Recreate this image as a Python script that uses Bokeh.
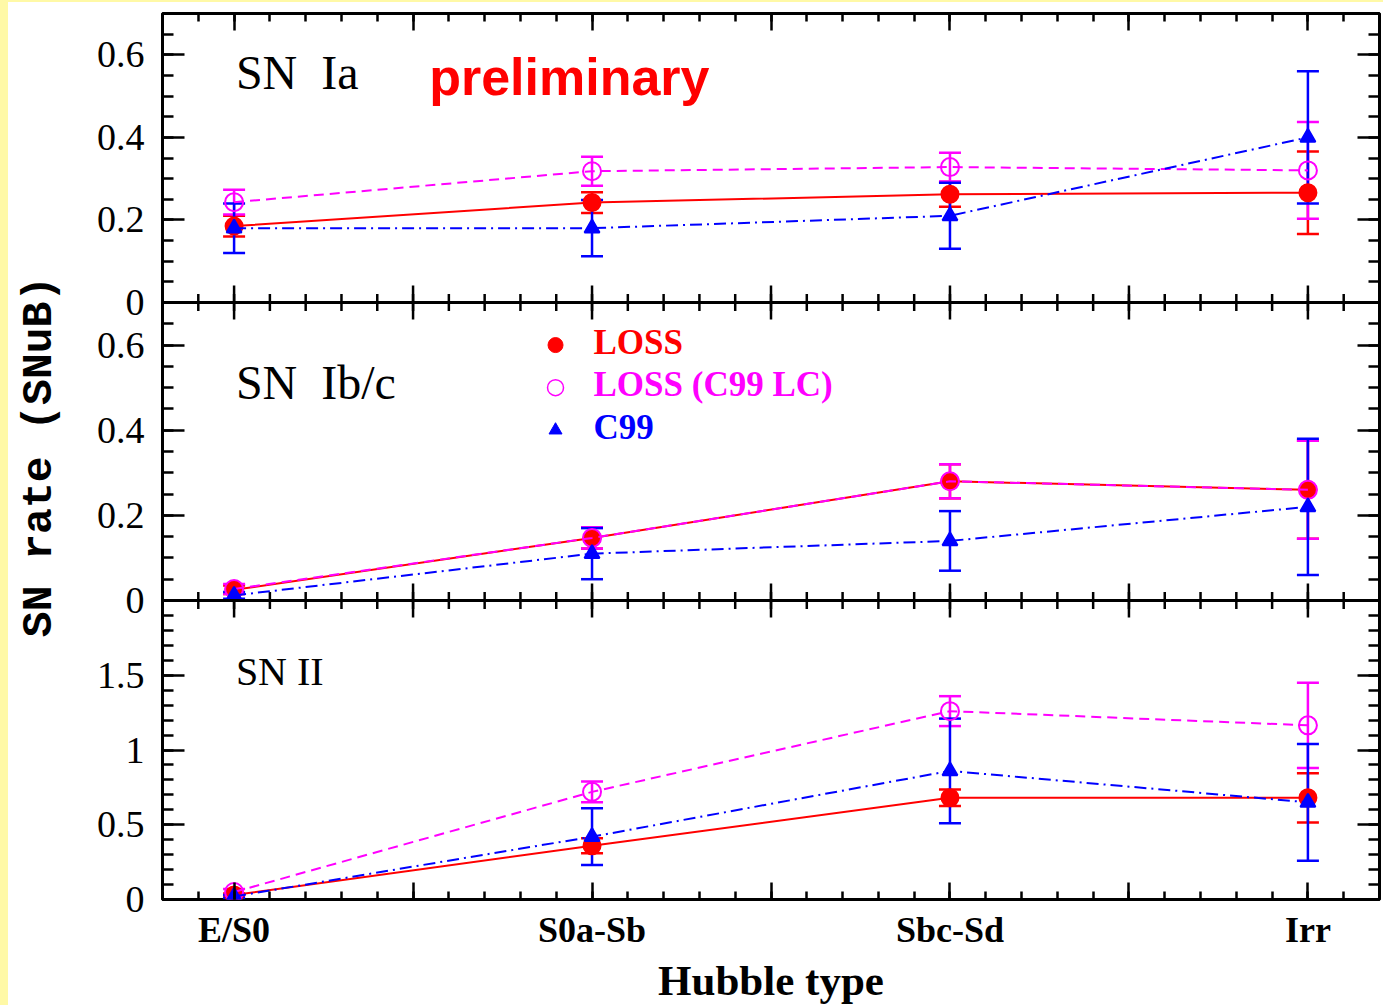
import numpy as np
from bokeh.plotting import figure
from bokeh.models import (Range1d, LinearAxis, FixedTicker, CustomJSTickFormatter,
                          Whisker, TeeHead, Span, ColumnDataSource, Label, Spacer)
from bokeh.layouts import row, column
from bokeh.core.properties import value
from bokeh.embed import file_html
from bokeh.resources import INLINE

# ---- data: SN rates (SNuB) per Hubble type ----
hubble_types = ["E/S0", "S0a-Sb", "Sbc-Sd", "Irr"]
type_pos = [1, 2, 3, 4]

ia_loss = [0.185, 0.242, 0.262, 0.266]
ia_loss_err = [0.025, 0.025, 0.03, 0.10]
ia_lc = [0.243, 0.318, 0.328, 0.32]
ia_lc_err = [0.03, 0.035, 0.035, 0.117]
ia_c99 = [0.18, 0.18, 0.21, 0.40]
ia_c99_err = [0.06, 0.068, 0.08, 0.16]

ibc_loss = [0.025, 0.147, 0.28, 0.26]
ibc_loss_err = [0.01, 0.025, 0.04, 0.115]
ibc_lc = [0.027, 0.147, 0.28, 0.26]
ibc_lc_err = [0.012, 0.025, 0.04, 0.115]
ibc_c99 = [0.012, 0.11, 0.14, 0.22]
ibc_c99_err = [0.008, 0.06, 0.07, 0.16]

ii_loss = [0.03, 0.36, 0.68, 0.68]
ii_loss_err = [0.01, 0.05, 0.055, 0.165]
ii_lc = [0.05, 0.72, 1.26, 1.165]
ii_lc_err = [0.02, 0.07, 0.10, 0.285]
ii_c99 = [0.02, 0.42, 0.86, 0.65]
ii_c99_err = [0.01, 0.19, 0.35, 0.39]

series_names = ["LOSS", "LOSS (C99 LC)", "C99"]
panel_titles = ["SN\u00a0\u00a0Ia", "SN\u00a0\u00a0Ib/c", "SN II"]

small_ticks = [0, 0.2, 0.4, 0.6]
small_tick_labels = ["0", "0.2", "0.4", "0.6"]
big_ticks = [0, 0.5, 1, 1.5]
big_tick_labels = ["0", "0.5", "1", "1.5"]

# ---- layout ----
FRAME_W, FRAME_H = 1217, 886
SERIF = "Liberation Serif"
RED, MAGENTA, BLUE = "#FF0000", "#FF00FF", "#0000FF"

# name, height (px), value limits, px offset from frame bottom, ticks, labels, minor step
panels = [
    ("ia", 289, (0.0, 0.7), 597, small_ticks, small_tick_labels, 0.05),
    ("ibc", 298, (0.0, 0.7), 299, small_ticks, small_tick_labels, 0.05),
    ("ii", 299, (0.0, 2.0), 0, big_ticks, big_tick_labels, 0.1),
]

p = figure(frame_width=FRAME_W, frame_height=FRAME_H,
           x_range=Range1d(0.8, 4.2), y_range=Range1d(0, FRAME_H),
           x_axis_location=None, y_axis_location=None,
           output_backend="svg", toolbar_location=None, tools="",
           min_border_left=154, min_border_right=4, min_border_top=11, min_border_bottom=106,
           background_fill_color="white", border_fill_color="white",
           outline_line_color="black", outline_line_width=3)
p.xgrid.grid_line_color = None
p.ygrid.grid_line_color = None

# one y range per panel, all sharing the same frame
ly_pos, ly_lab, ly_minor = [], [], []
for name, h, (lo, hi), off, ticks, labs, mstep in panels:
    ppu = h / (hi - lo)
    start = lo - off / ppu
    p.extra_y_ranges[name] = Range1d(start, start + FRAME_H / ppu)
    for v, lab in zip(ticks, labs):
        ly_pos.append(off + (v - lo) * ppu)
        ly_lab.append(lab)
    for v in np.arange(lo, hi + 1e-9, mstep):
        ly_minor.append(off + (v - lo) * ppu)

order = np.argsort(ly_pos)
ly_pos = [float(ly_pos[i]) for i in order]
ly_lab = [ly_lab[i] for i in order]
ly_minor = sorted(float(v) for v in ly_minor)

x_major = [float(v) for v in np.arange(1.0, 4.01, 0.5)]
x_minor = [float(v) for v in np.round(np.arange(0.8, 4.21, 0.1), 3)]

tick_style = dict(axis_line_color=None, major_tick_out=0, minor_tick_out=0,
                  major_tick_line_width=2.5, minor_tick_line_width=2.5,
                  major_tick_line_color="black", minor_tick_line_color="black")

left = LinearAxis(
    ticker=FixedTicker(ticks=ly_pos, minor_ticks=ly_minor),
    formatter=CustomJSTickFormatter(args=dict(pos=ly_pos, labs=ly_lab), code="""
        let best = 0;
        for (let i = 1; i < pos.length; i++) {
            if (Math.abs(pos[i] - tick) < Math.abs(pos[best] - tick)) best = i;
        }
        return labs[best];
    """),
    major_tick_in=22, minor_tick_in=11,
    major_label_text_font=SERIF, major_label_text_font_size="38px",
    major_label_text_color="black", major_label_standoff=18,
    axis_label="SN rate (SNuB)", axis_label_text_font="Liberation Mono",
    axis_label_text_font_style="bold", axis_label_text_font_size="43px",
    axis_label_text_color="black", axis_label_standoff=30,
    **tick_style)
p.add_layout(left, "left")

right = LinearAxis(ticker=FixedTicker(ticks=ly_pos, minor_ticks=ly_minor),
                   major_tick_in=22, minor_tick_in=11, major_label_text_color=None,
                   major_label_standoff=0, **tick_style)
p.add_layout(right, "right")

top = LinearAxis(ticker=FixedTicker(ticks=x_major, minor_ticks=x_minor),
                 major_tick_in=17, minor_tick_in=8, major_label_text_color=None,
                 major_label_standoff=0, **tick_style)
p.add_layout(top, "above")

bottom = LinearAxis(
    ticker=FixedTicker(ticks=x_major, minor_ticks=x_minor),
    formatter=CustomJSTickFormatter(args=dict(names=hubble_types), code="""
        const i = Math.round(tick);
        return Math.abs(tick - i) < 1e-6 ? names[i - 1] : "";
    """),
    major_tick_in=17, minor_tick_in=8,
    major_label_text_font=SERIF, major_label_text_font_style="bold",
    major_label_text_font_size="36px", major_label_text_color="black",
    major_label_standoff=10,
    axis_label="Hubble type", axis_label_text_font=SERIF,
    axis_label_text_font_style="bold", axis_label_text_font_size="43px",
    axis_label_text_color="black", axis_label_standoff=4,
    **tick_style)
p.add_layout(bottom, "below")

# panel separators with ticks on both sides
for name in ("ia", "ibc"):
    p.add_layout(Span(location=0, dimension="width", y_range_name=name,
                      line_color="black", line_width=3))
    p.scatter(x=x_major, y=[0] * len(x_major), marker="dash", angle=np.pi / 2,
              size=34, line_color="black", line_width=2.5, y_range_name=name)
    p.scatter(x=x_minor, y=[0] * len(x_minor), marker="dash", angle=np.pi / 2,
              size=17, line_color="black", line_width=2.5, y_range_name=name)

# series styling
styles = [
    dict(color=RED, dash="solid", marker="circle", size=17, fill=RED),
    dict(color=MAGENTA, dash="10 6", marker="circle", size=18, fill=None),
    dict(color=BLUE, dash="12 5 2 5", marker="triangle", size=15, fill=BLUE),
]

panel_data = {
    "ia": [(ia_loss, ia_loss_err), (ia_lc, ia_lc_err), (ia_c99, ia_c99_err)],
    "ibc": [(ibc_loss, ibc_loss_err), (ibc_lc, ibc_lc_err), (ibc_c99, ibc_c99_err)],
    "ii": [(ii_loss, ii_loss_err), (ii_lc, ii_lc_err), (ii_c99, ii_c99_err)],
}

for name, series in panel_data.items():
    for (vals, errs), st in zip(series, styles):
        v = np.array(vals)
        e = np.array(errs)
        src = ColumnDataSource(dict(base=type_pos, y=vals,
                                    lower=list(v - e), upper=list(v + e)))
        p.line("base", "y", source=src, line_color=st["color"], line_width=2,
               line_dash=st["dash"], y_range_name=name)
        p.add_layout(Whisker(source=src, base="base", lower="lower", upper="upper",
                             dimension="height", line_color=st["color"], line_width=2.5,
                             upper_head=TeeHead(size=22, line_color=st["color"], line_width=2.5),
                             lower_head=TeeHead(size=22, line_color=st["color"], line_width=2.5),
                             y_range_name=name))
        p.scatter("base", "y", source=src, marker=st["marker"], size=st["size"],
                  line_color=st["color"], line_width=2,
                  fill_color=st["fill"], y_range_name=name)

# panel titles
title_specs = [("ia", 0.558, "48px"), ("ibc", 0.513, "48px"), ("ii", 1.525, "40px")]
for (name, ty, fs), txt in zip(title_specs, panel_titles):
    p.add_layout(Label(x=1.005, y=ty, y_range_name=name, text=txt,
                       text_font=SERIF, text_font_size=fs, text_color="black",
                       text_baseline="alphabetic", text_align="left"))

p.add_layout(Label(x=1.545, y=0.547, y_range_name="ia", text="preliminary",
                   text_font="Liberation Sans", text_font_style="bold",
                   text_font_size="52px", text_color=RED,
                   text_baseline="alphabetic", text_align="left"))

# legend drawn inside the Ib/c panel
leg_y = [0.60, 0.50, 0.40]
leg_x = [1.898] * 3
leg_src = ColumnDataSource(dict(x=leg_x, y=leg_y, text=series_names,
                                color=[RED, MAGENTA, BLUE]))
p.scatter(x=[leg_x[0]], y=[leg_y[0]], marker="circle", size=15, fill_color=RED,
          line_color=RED, y_range_name="ibc")
p.scatter(x=[leg_x[1]], y=[leg_y[1]], marker="circle", size=16, fill_color=None,
          line_color=MAGENTA, line_width=1.5, y_range_name="ibc")
p.scatter(x=[leg_x[2]], y=[leg_y[2]], marker="triangle", size=13, fill_color=BLUE,
          line_color=BLUE, y_range_name="ibc")
p.text(x="x", y="y", text="text", source=leg_src, text_color="color",
       text_font=value(SERIF), text_font_style="bold", text_font_size="35px",
       text_baseline="alphabetic", x_offset=38, y_offset=-3, y_range_name="ibc")

yellow = "#FFF9A6"
layout = row(Spacer(width=8, height=1005, styles={"background-color": yellow}),
             column(Spacer(width=1375, height=2, styles={"background-color": yellow}), p))

open("out.html", "w").write(file_html(layout, INLINE))
